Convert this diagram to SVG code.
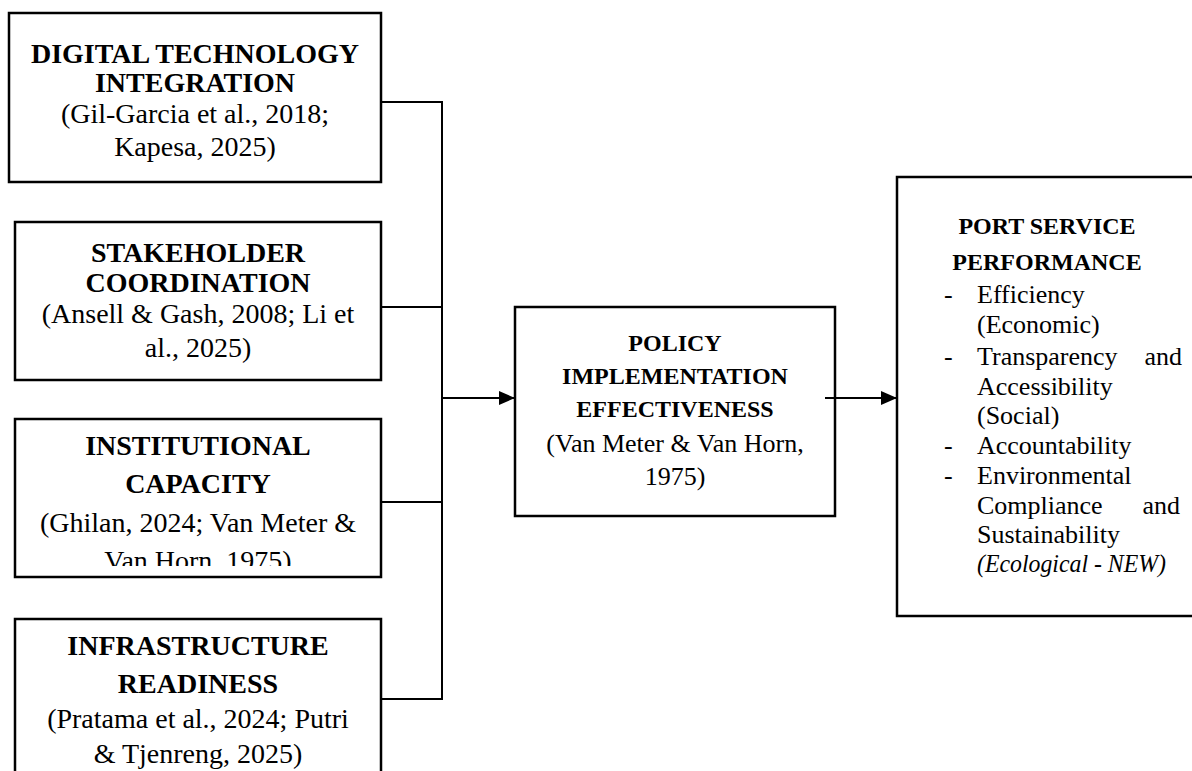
<svg xmlns="http://www.w3.org/2000/svg" width="1192" height="771" viewBox="0 0 1192 771">
<style>
.box{fill:#fff;stroke:#000;stroke-width:2.5}
.con{fill:none;stroke:#000;stroke-width:2}
.t{font-family:"Liberation Serif","Times New Roman",serif;fill:#000;text-anchor:middle}
.bL{font-size:28px;font-weight:bold}
.rL{font-size:28px}
.bM{font-size:24px;font-weight:bold}
.rM{font-size:26px}
.s{font-family:"Liberation Serif","Times New Roman",serif;fill:#000;font-size:26px}
</style>
<defs>
<marker id="ah" markerUnits="userSpaceOnUse" markerWidth="16" markerHeight="14" refX="16" refY="7" orient="auto">
<path d="M0,0 L16,7 L0,14 Z" fill="#000"/>
</marker>
<clipPath id="clip3"><rect x="0" y="400" width="400" height="166"/></clipPath>
</defs>
<rect width="1192" height="771" fill="#fff"/>
<g id="node-digital">
<rect class="box" x="9" y="13" width="372" height="169"/>
<text class="t bL" x="195" y="63">DIGITAL TECHNOLOGY</text>
<text class="t bL" x="195" y="92">INTEGRATION</text>
<text class="t rL" x="195" y="123">(Gil-Garcia et al., 2018;</text>
<text class="t rL" x="195" y="156">Kapesa, 2025)</text>
</g>
<g id="node-stakeholder">
<rect class="box" x="15" y="222" width="366" height="158"/>
<text class="t bL" x="198" y="262">STAKEHOLDER</text>
<text class="t bL" x="198" y="292">COORDINATION</text>
<text class="t rL" x="198" y="323">(Ansell &amp; Gash, 2008; Li et</text>
<text class="t rL" x="198" y="357">al., 2025)</text>
</g>
<g id="node-institutional">
<rect class="box" x="15" y="419" width="366" height="158"/>
<text class="t bL" x="198" y="455">INSTITUTIONAL</text>
<text class="t bL" x="198" y="493">CAPACITY</text>
<text class="t rL" x="198" y="532">(Ghilan, 2024; Van Meter &amp;</text>
<text class="t rL" x="198" y="570" clip-path="url(#clip3)">Van Horn, 1975)</text>
</g>
<g id="node-infrastructure">
<rect class="box" x="15" y="619" width="366" height="200"/>
<text class="t bL" x="198" y="655">INFRASTRUCTURE</text>
<text class="t bL" x="198" y="693">READINESS</text>
<text class="t rL" x="198" y="728">(Pratama et al., 2024; Putri</text>
<text class="t rL" x="198" y="763">&amp; Tjenreng, 2025)</text>
</g>
<g id="node-policy">
<rect class="box" x="515" y="307" width="320" height="209"/>
<text class="t bM" x="675" y="351">POLICY</text>
<text class="t bM" x="675" y="384">IMPLEMENTATION</text>
<text class="t bM" x="675" y="417">EFFECTIVENESS</text>
<text class="t rM" x="675" y="452">(Van Meter &amp; Van Horn,</text>
<text class="t rM" x="675" y="485">1975)</text>
</g>
<g id="node-port">
<rect class="box" x="897" y="177" width="320" height="439"/>
<text class="t bM" x="1047" y="234">PORT SERVICE</text>
<text class="t bM" x="1047" y="270">PERFORMANCE</text>
<text class="s" x="944" y="303">-</text>
<text class="s" x="977" y="303">Efficiency</text>
<text class="s" x="977" y="333">(Economic)</text>
<text class="s" x="944" y="365">-</text>
<text class="s" x="977" y="365">Transparency</text>
<text class="s" x="1182" y="365" text-anchor="end">and</text>
<text class="s" x="977" y="395">Accessibility</text>
<text class="s" x="977" y="424">(Social)</text>
<text class="s" x="944" y="454">-</text>
<text class="s" x="977" y="454">Accountability</text>
<text class="s" x="944" y="484">-</text>
<text class="s" x="977" y="484">Environmental</text>
<text class="s" x="977" y="514">Compliance</text>
<text class="s" x="1180" y="514" text-anchor="end">and</text>
<text class="s" x="977" y="543">Sustainability</text>
<text class="s" x="977" y="572" font-style="italic" textLength="189" lengthAdjust="spacingAndGlyphs">(Ecological - NEW)</text>
</g>
<g id="connectors">
<path class="con" d="M381,102 H442 V699 H381"/>
<path class="con" d="M381,307 H442"/>
<path class="con" d="M381,502 H442"/>
<path class="con" d="M442,398 H515" marker-end="url(#ah)"/>
<path class="con" d="M825,398 H897" marker-end="url(#ah)"/>
</g>
</svg>
